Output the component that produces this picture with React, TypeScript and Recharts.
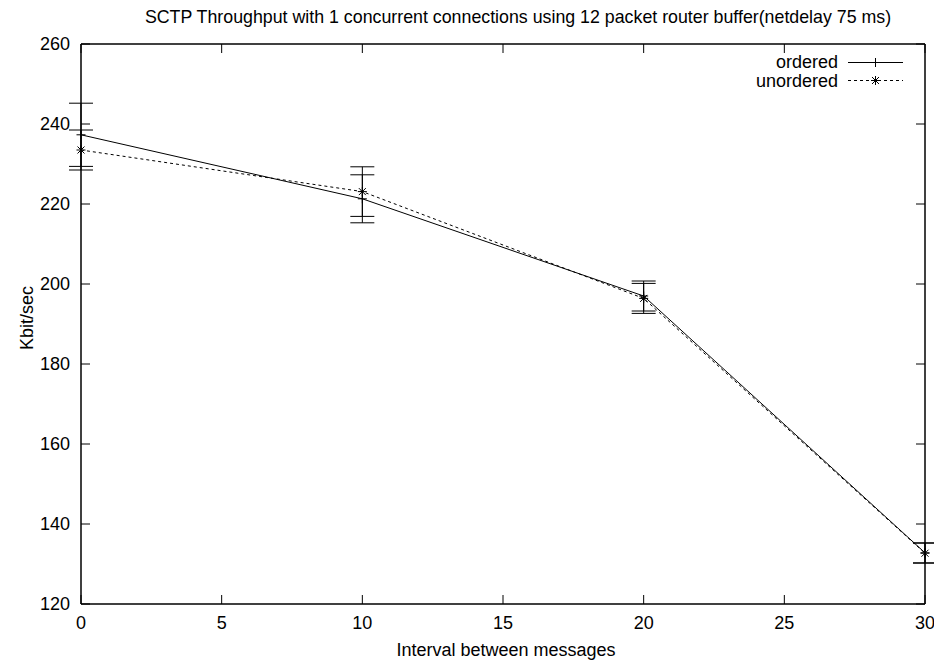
import React from 'react';
import { LineChart, Line, XAxis, YAxis, ErrorBar, Customized, ReferenceLine } from 'recharts';

const intervals = [0, 10, 20, 30];
const orderedValues = [237.3, 221.3, 197.0, 132.8];
const orderedErrors = [7.9, 6.0, 3.75, 2.5];
const unorderedValues = [233.5, 223.1, 196.4, 132.7];
const unorderedErrors = [5.0, 6.2, 3.75, 2.5];
const xTicks = [0, 5, 10, 15, 20, 25, 30];
const yTicks = [120, 140, 160, 180, 200, 220, 240, 260];
const yMin = 120;
const yMax = 260;
const xMin = 0;
const xMax = 30;

const titleText = 'SCTP Throughput with 1 concurrent connections using 12 packet router buffer(netdelay 75 ms)';
const xLabel = 'Interval between messages';
const yLabel = 'Kbit/sec';
const seriesNames = ['ordered', 'unordered'];

const data = intervals.map((x, i) => ({
  x,
  ordered: orderedValues[i],
  orderedErr: orderedErrors[i],
  unordered: unorderedValues[i],
  unorderedErr: unorderedErrors[i],
}));

const FONT = '"Liberation Sans", Arial, Helvetica, sans-serif';
const FS = 18;
const TOP_TICK_LEN = 2.25;

const PlusMark = (cx: number, cy: number, key?: any) => (
  <g key={key}>
    <line x1={cx - 4.5} y1={cy} x2={cx + 4.5} y2={cy} stroke="#000" strokeWidth={1} />
    <line x1={cx} y1={cy - 4.5} x2={cx} y2={cy + 4.5} stroke="#000" strokeWidth={1} />
  </g>
);

const StarMark = (cx: number, cy: number, key?: any) => (
  <g key={key}>
    <line x1={cx - 4.5} y1={cy} x2={cx + 4.5} y2={cy} stroke="#000" strokeWidth={1} />
    <line x1={cx} y1={cy - 4.5} x2={cx} y2={cy + 4.5} stroke="#000" strokeWidth={1} />
    <line x1={cx - 3.5} y1={cy - 3.5} x2={cx + 3.5} y2={cy + 3.5} stroke="#000" strokeWidth={1} />
    <line x1={cx - 3.5} y1={cy + 3.5} x2={cx + 3.5} y2={cy - 3.5} stroke="#000" strokeWidth={1} />
  </g>
);

const plusDot = (props: any) => PlusMark(props.cx, props.cy, props.key ?? `p${props.index}`);
const starDot = (props: any) => StarMark(props.cx, props.cy, props.key ?? `s${props.index}`);
const emptyTick = () => <g />;

const Decorations = () => (
  <g style={{ fontFamily: FONT }}>
    <text x={510} y={14.5} textAnchor="middle" fontSize={17.8} fill="#000">{titleText}</text>
    <text x={498} y={648} textAnchor="middle" fontSize={FS} fill="#000">{xLabel}</text>
    <text x={25} y={310} textAnchor="middle" fontSize={FS} fill="#000" transform="rotate(-90, 25, 310)">{yLabel}</text>
    <text x={830} y={60} textAnchor="end" fontSize={FS} fill="#000">{seriesNames[0]}</text>
    <line x1={840} y1={54.5} x2={895} y2={54.5} stroke="#000" strokeWidth={1} />
    {PlusMark(867.5, 54.5)}
    <text x={830} y={78.5} textAnchor="end" fontSize={FS} fill="#000">{seriesNames[1]}</text>
    <line x1={840} y1={72.5} x2={895} y2={72.5} stroke="#000" strokeWidth={1} strokeDasharray="3 3" />
    {StarMark(867.5, 72.5)}
  </g>
);

export default function App() {
  return (
    <LineChart
      width={926}
      height={652}
      data={data}
      margin={{ top: 36, right: 4, bottom: 0, left: 0 }}
      style={{ fontFamily: FONT, overflow: 'visible', background: '#fff' }}
    >
      <XAxis
        xAxisId="b"
        dataKey="x"
        type="number"
        domain={[xMin, xMax]}
        ticks={xTicks}
        orientation="bottom"
        height={56}
        tickSize={-9}
        tickMargin={21}
        axisLine={{ stroke: '#000', strokeWidth: 1.5 }}
        tickLine={{ stroke: '#000' }}
        tick={{ fill: '#000', fontSize: FS }}
        interval={0}
      />
      <YAxis
        yAxisId="l"
        type="number"
        domain={[yMin, yMax]}
        ticks={yTicks}
        orientation="left"
        width={73}
        tickSize={-9}
        tickMargin={20}
        axisLine={{ stroke: '#000', strokeWidth: 1.5 }}
        tickLine={{ stroke: '#000' }}
        tick={{ fill: '#000', fontSize: FS }}
        interval={0}
      />
      <YAxis
        yAxisId="r"
        type="number"
        domain={[yMin, yMax]}
        ticks={yTicks}
        orientation="right"
        width={5}
        tickSize={-9}
        axisLine={{ stroke: '#000', strokeWidth: 1.5 }}
        tickLine={{ stroke: '#000' }}
        tick={emptyTick}
        interval={0}
      />
      <Line
        xAxisId="b"
        yAxisId="r"
        type="linear"
        dataKey="ordered"
        stroke="none"
        dot={false}
        activeDot={false}
        legendType="none"
        isAnimationActive={false}
      />
      <ReferenceLine xAxisId="b" yAxisId="l" y={yMax} stroke="#000" strokeWidth={1.5} />
      {xTicks.map((t) => (
        <ReferenceLine
          key={`tt${t}`}
          xAxisId="b"
          yAxisId="l"
          segment={[{ x: t, y: yMax }, { x: t, y: yMax - TOP_TICK_LEN }]}
          stroke="#000"
          strokeWidth={1}
        />
      ))}
      <Line
        xAxisId="b"
        yAxisId="l"
        type="linear"
        dataKey="ordered"
        stroke="#000"
        strokeWidth={1}
        dot={plusDot}
        activeDot={false}
        isAnimationActive={false}
      >
        <ErrorBar dataKey="orderedErr" width={12} stroke="#000" strokeWidth={1} direction="y" />
      </Line>
      <Line
        xAxisId="b"
        yAxisId="l"
        type="linear"
        dataKey="unordered"
        stroke="#000"
        strokeWidth={1}
        strokeDasharray="3 3"
        dot={starDot}
        activeDot={false}
        isAnimationActive={false}
      >
        <ErrorBar dataKey="unorderedErr" width={12} stroke="#000" strokeWidth={1} direction="y" />
      </Line>
      <Customized component={Decorations} />
    </LineChart>
  );
}
